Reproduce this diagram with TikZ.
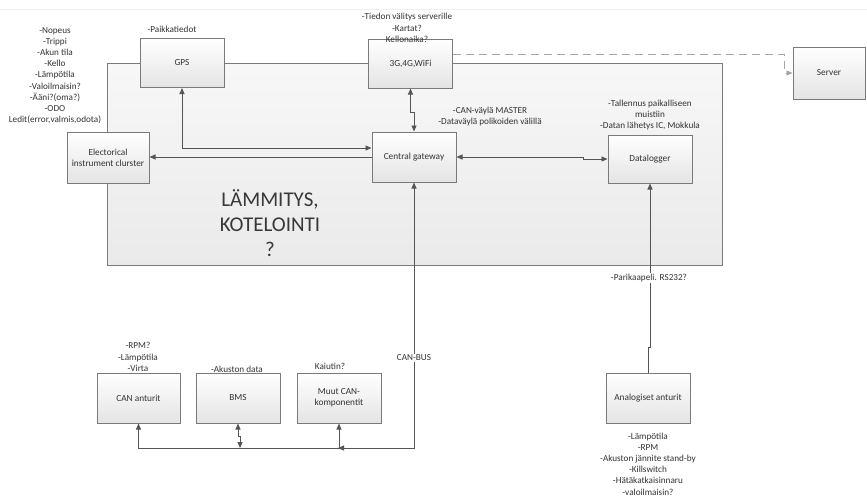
\documentclass[tikz,border=0pt]{standalone}
\usepackage{fontspec}
\setmainfont{Carlito}
\usetikzlibrary{arrows.meta,calc}

\definecolor{boxline}{HTML}{7A7A7A}
\definecolor{boxbot}{HTML}{E4E4E4}
\definecolor{framebot}{HTML}{EAEAEA}
\definecolor{wire}{HTML}{555555}
\definecolor{txt}{HTML}{333333}

\tikzset{
  unit/.style={draw=boxline, line width=1pt, top color=white, bottom color=boxbot,
    minimum width=84pt, minimum height=49pt, inner sep=1pt, align=center,
    text=txt, font=\fontsize{9.3}{11}\selectfont},
  enclosure/.style={draw=boxline, line width=1pt, top color=white!97!black,
    bottom color=framebot, minimum width=615pt, minimum height=202pt, inner sep=0pt},
  note/.style={align=center, text=txt, inner sep=0pt, font=\fontsize{9.2}{11.2}\selectfont},
  wirelabel/.style={fill=white, inner sep=1pt, text=txt, font=\fontsize{9.2}{11}\selectfont},
  link/.style={draw=wire, line width=0.9pt, -{Triangle[length=6pt,width=5pt]}},
  duplex/.style={draw=wire, line width=0.9pt,
    {Triangle[length=6pt,width=5pt]}-{Triangle[length=6pt,width=5pt]}},
  radiolink/.style={draw=gray!70, line width=0.9pt, dash pattern=on 8pt off 5pt,
    -{Triangle[length=6pt,width=5pt]}}
}

\begin{document}
\begin{tikzpicture}[x=1pt, y=-1pt]
  \clip (0,0) rectangle (867,496);
  \fill[white] (0,0) rectangle (867,496);
  % faint rule along the top edge
  \draw[blue!6!gray!12, line width=1pt] (0,9) -- (867,9);

  % enclosure of the on-board units
  \node[enclosure] (encl) at (414.5,164) {};
  \node[text=black!78, align=center, inner sep=0pt, font=\fontsize{21}{25}\selectfont]
    (heat) at (270,223) {LÄMMITYS,\\KOTELOINTI\\?};

  % units
  \node[unit] (gps)  at (182,63)    {GPS};
  \node[unit] (g3)   at (410.5,63.5){3G,4G,WiFi};
  \node[unit, minimum width=72pt, minimum height=52pt] (srv) at (829,73) {Server};
  \node[unit, minimum width=82pt, minimum height=51pt] (eic) at (108,157.5) {Electorical\\instrument clurster};
  \node[unit, minimum height=50pt] (cg)   at (414,157)  {Central gateway};
  \node[unit, minimum height=48pt] (dl)   at (650,159)  {Datalogger};
  \node[unit, minimum width=83pt, minimum height=50pt] (cant) at (138.5,398) {CAN anturit};
  \node[unit, minimum height=50pt] (bms)  at (238,398)  {BMS};
  \node[unit, minimum height=50pt] (muut) at (339,398)  {Muut CAN-\\komponentit};
  \node[unit, minimum height=50pt] (an)   at (648,398)  {Analogiset anturit};

  % annotations
  \node[note] (eicnote) at (55,75.5) {-Nopeus\\-Trippi\\-Akun tila\\-Kello\\-Lämpötila\\-Valoilmaisin?\\-Ääni?(oma?)\\-ODO\\Ledit(error,valmis,odota)};
  \node[note] (gpsnote) at (172,29) {-Paikkatiedot};
  \node[note] (g3note)  at (407,28) {-Tiedon välitys serverille\\-Kartat?\\Kellonaika?};
  \node[note] (cgnote)  at (490,116.5) {-CAN-väylä MASTER\\-Dataväylä polikoiden välillä};
  \node[note] (dlnote)  at (650,115) {-Tallennus paikalliseen\\muistiin\\-Datan lähetys IC, Mokkula};
  \node[note] (cannote) at (138,357) {-RPM?\\-Lämpötila\\-Virta};
  \node[note] (bmsnote) at (237,369) {-Akuston data};
  \node[note] (muutnote) at (330,366) {Kaiutin?};
  \node[note] (annote)  at (648,464) {-Lämpötila\\-RPM\\-Akuston jännite stand-by\\-Killswitch\\-Hätäkatkaisinnaru\\-valoilmaisin?};

  % connectors
  \coordinate (bus) at (414,448);
  \draw[radiolink] ($(g3.north east)+(0,16)$) -| ($(srv.west)+(-8,0)$) -- (srv.west);
  \draw[duplex] (g3.south) -- ($(g3.south)+(0,24)$) -| (cg.north);
  \draw[duplex] (gps.south) |- ($(cg.west)+(0,-9)$);
  \draw[link] (cg.west) -- (cg.west -| eic.east);
  \draw[duplex] (cg.east) -- ($(cg.east)+(127,0)$) |- (dl.west);
  \draw[link] (an.north) -- ($(an.north)+(0,-25)$) -| (dl.south);
  \draw[duplex] (cant.south) |- (bus) -- (cg.south);
  \draw[duplex] (bms.south) -- ($(bms.south)+(0,13)$) -| ($(bms.south |- bus)+(2,0)$);
  \draw[link] (muut.south |- bus) -- (muut.south);
  \draw[link] ($(muut.south |- bus)+(6,0)$) -- ($(muut.south |- bus)+(-1,0)$);

  % labels on the wires
  \node[wirelabel] (canbus) at (414,358) {CAN-BUS};
  \node[wirelabel] (rs232)  at (649,278) {-Parikaapeli. RS232?};
\end{tikzpicture}
\end{document}
